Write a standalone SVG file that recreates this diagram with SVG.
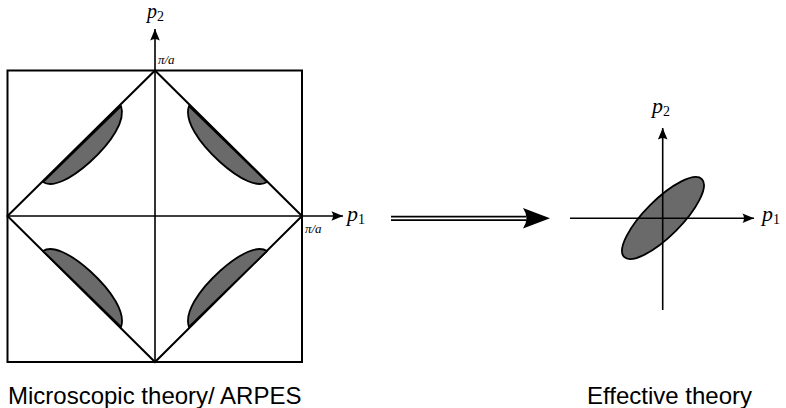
<svg xmlns="http://www.w3.org/2000/svg" width="786" height="408" viewBox="0 0 786 408">
  <style>
    .ln { stroke: #000; stroke-width: 2; fill: none; }
    .ax { stroke: #000; stroke-width: 1.6; fill: none; }
    .pocket { fill: #6a6a6a; stroke: #000; stroke-width: 1.8; stroke-linejoin: round; }
    .math { font-family: "Liberation Serif", "DejaVu Serif", serif; font-style: italic; fill: #000; }
    .sub { font-family: "Liberation Serif", "DejaVu Serif", serif; font-style: normal; fill: #000; }
    .cap { font-family: "Liberation Sans", Arial, sans-serif; font-size: 24px; fill: #000; }
  </style>
  <defs>
    <marker id="tip" markerUnits="userSpaceOnUse" viewBox="-12 -6 13 12" refX="0" refY="0" markerWidth="13" markerHeight="12" orient="auto">
      <path d="M0,0 L-11.5,-4.8 Q-8.5,0 -11.5,4.8 Z" fill="#000"/>
    </marker>
    <path id="fs" d="M43,182 C52,188 70,180 90,162 C112,142 126,120 121,106 Z"/>
  </defs>

  <!-- Brillouin zone with Fermi pockets -->
  <g id="zone">
    <rect class="ln" x="7.5" y="70.5" width="294.5" height="291.5"/>
    <polygon class="ln" points="155,70.5 302,216 155,362 7.5,216"/>
    <use href="#fs" class="pocket"/>
    <use href="#fs" class="pocket" transform="matrix(-1 0 0 1 310 0)"/>
    <use href="#fs" class="pocket" transform="matrix(1 0 0 -1 0 433)"/>
    <use href="#fs" class="pocket" transform="matrix(-1 0 0 -1 310 433)"/>
  </g>

  <!-- momentum axes, left -->
  <g id="axes-left">
    <line class="ax" x1="155" y1="362" x2="155" y2="29" marker-end="url(#tip)"/>
    <line class="ax" x1="8" y1="216" x2="343" y2="216" marker-end="url(#tip)"/>
    <text class="math" x="147" y="18" font-size="20">p<tspan class="sub" font-size="14" dy="3">2</tspan></text>
    <text class="math" x="347" y="221" font-size="22">p<tspan class="sub" font-size="14" dy="3">1</tspan></text>
    <text class="math" x="158" y="64" font-size="13">π/a</text>
    <text class="math" x="305" y="233" font-size="13">π/a</text>
  </g>

  <!-- double arrow between panels -->
  <g id="flow">
    <line x1="391" y1="218.3" x2="526" y2="218.3" stroke="#000" stroke-width="5.2"/>
    <line x1="390" y1="218.3" x2="527" y2="218.3" stroke="#fff" stroke-width="1.8"/>
    <path d="M550,218.3 L523,208 Q530,218.3 523,228.6 Z" fill="#000"/>
  </g>

  <!-- effective description -->
  <g id="effective">
    <ellipse class="pocket" cx="663" cy="218" rx="55" ry="18.2" transform="rotate(-45 663 218)"/>
    <line class="ax" x1="662.7" y1="310" x2="662.7" y2="128" marker-end="url(#tip)"/>
    <line class="ax" x1="570" y1="218.3" x2="754" y2="218.3" marker-end="url(#tip)"/>
    <text class="math" x="652" y="113" font-size="22">p<tspan class="sub" font-size="14" dy="3">2</tspan></text>
    <text class="math" x="762" y="221" font-size="22">p<tspan class="sub" font-size="14" dy="3">1</tspan></text>
  </g>

  <!-- captions -->
  <text id="cap-left" class="cap" x="8" y="404">Microscopic theory/ ARPES</text>
  <text id="cap-right" class="cap" x="587" y="404">Effective theory</text>
</svg>
